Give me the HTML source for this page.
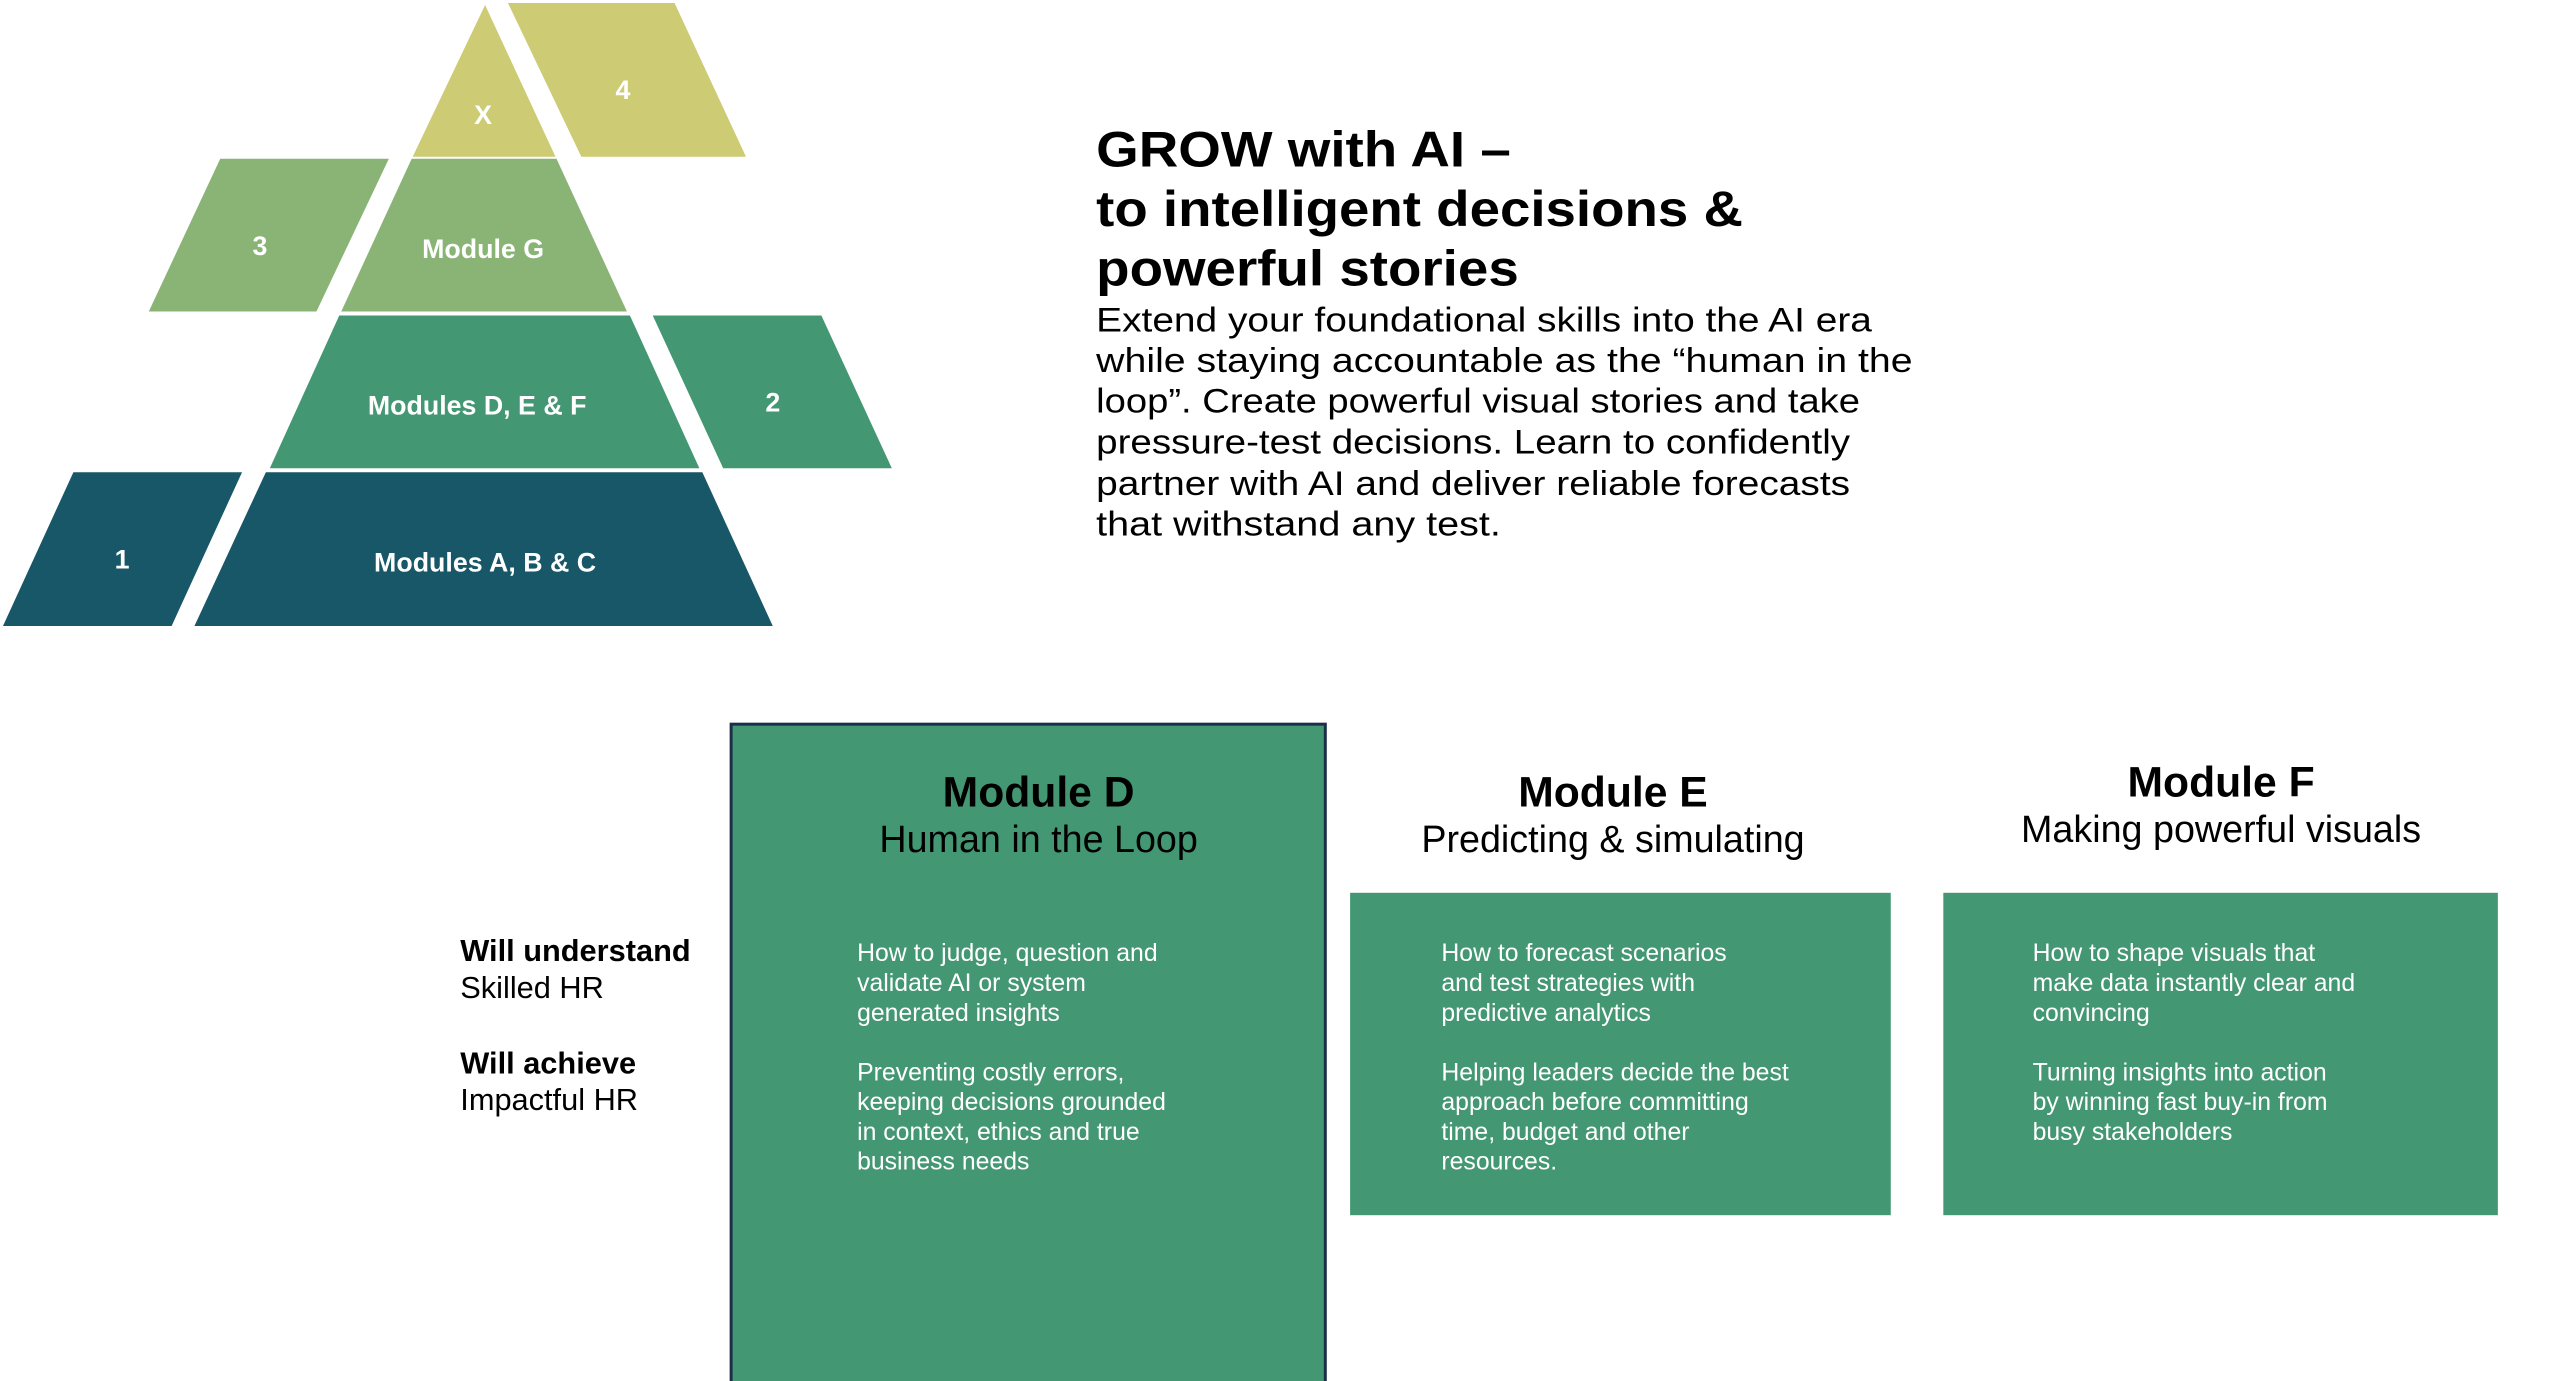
<!DOCTYPE html>
<html><head><meta charset="utf-8"><style>
html,body{margin:0;padding:0;background:#fff;}
svg{display:block;}
text{font-family:"Liberation Sans",sans-serif;}
</style></head><body>
<svg width="2560" height="1381" viewBox="0 0 2560 1381" xmlns="http://www.w3.org/2000/svg">
<g transform="scale(0.992)">
<!-- pyramid -->
<polygon points="489,5 560,158 416,158" fill="#cdcb74"/>
<polygon points="512,3 680,3 752,158 586,158" fill="#cdcb74"/>
<polygon points="415,160 561,160 632,314 344,314" fill="#8ab475"/>
<polygon points="222,160 392,160 319,314 150,314" fill="#8ab475"/>
<polygon points="342,318 635,318 705,472 272,472" fill="#449773"/>
<polygon points="658,318 828,318 899,472 729,472" fill="#449773"/>
<polygon points="268,476 708,476 779,631 196,631" fill="#175767"/>
<polygon points="74,476 244,476 173,631 3,631" fill="#175767"/>
<g fill="#fff" font-weight="bold" font-size="27" text-anchor="middle">
<text x="487" y="125">X</text>
<text x="628" y="100">4</text>
<text x="262" y="257">3</text>
<text x="487" y="260">Module G</text>
<text x="481" y="418">Modules D, E &amp; F</text>
<text x="779" y="415">2</text>
<text x="489" y="576">Modules A, B &amp; C</text>
<text x="123" y="573">1</text>
</g>
<!-- title -->
<g font-weight="bold" font-size="50" fill="#000">
<text x="1105" y="168" textLength="418" lengthAdjust="spacingAndGlyphs">GROW with AI –</text>
<text x="1105" y="228" textLength="652" lengthAdjust="spacingAndGlyphs">to intelligent decisions &amp;</text>
<text x="1105" y="288" textLength="426" lengthAdjust="spacingAndGlyphs">powerful stories</text>
</g>
<g font-size="35" fill="#000">
<text x="1105" y="334" textLength="782" lengthAdjust="spacingAndGlyphs">Extend your foundational skills into the AI era</text>
<text x="1105" y="375" textLength="823" lengthAdjust="spacingAndGlyphs">while staying accountable as the “human in the</text>
<text x="1105" y="416" textLength="770" lengthAdjust="spacingAndGlyphs">loop”. Create powerful visual stories and take</text>
<text x="1105" y="457" textLength="760" lengthAdjust="spacingAndGlyphs">pressure-test decisions. Learn to confidently</text>
<text x="1105" y="499" textLength="760" lengthAdjust="spacingAndGlyphs">partner with AI and deliver reliable forecasts</text>
<text x="1105" y="540" textLength="408" lengthAdjust="spacingAndGlyphs">that withstand any test.</text>
</g>
<!-- boxes -->
<rect x="737" y="730" width="599" height="670" fill="#449773" stroke="#1b2e4a" stroke-width="3"/>
<rect x="1361" y="900" width="545" height="325" fill="#449773"/>
<rect x="1959" y="900" width="559" height="325" fill="#449773"/>
<g text-anchor="middle" fill="#000">
<text x="1047" y="813" font-size="43" font-weight="bold">Module D</text>
<text x="1047" y="859" font-size="38">Human in the Loop</text>
<text x="1626" y="813" font-size="43" font-weight="bold">Module E</text>
<text x="1626" y="859" font-size="38">Predicting &amp; simulating</text>
<text x="2239" y="803" font-size="43" font-weight="bold">Module F</text>
<text x="2239" y="849" font-size="38">Making powerful visuals</text>
</g>
<g fill="#fff" font-size="25">
<text x="864" y="969">How to judge, question and</text>
<text x="864" y="999">validate AI or system</text>
<text x="864" y="1029">generated insights</text>
<text x="864" y="1089">Preventing costly errors,</text>
<text x="864" y="1119">keeping decisions grounded</text>
<text x="864" y="1149">in context, ethics and true</text>
<text x="864" y="1179">business needs</text>
<text x="1453" y="969">How to forecast scenarios</text>
<text x="1453" y="999">and test strategies with</text>
<text x="1453" y="1029">predictive analytics</text>
<text x="1453" y="1089">Helping leaders decide  the best</text>
<text x="1453" y="1119">approach before committing</text>
<text x="1453" y="1149">time, budget and other</text>
<text x="1453" y="1179">resources.</text>
<text x="2049" y="969">How to shape visuals that</text>
<text x="2049" y="999">make data instantly clear and</text>
<text x="2049" y="1029">convincing</text>
<text x="2049" y="1089">Turning insights into action</text>
<text x="2049" y="1119">by winning fast buy-in from</text>
<text x="2049" y="1149">busy stakeholders</text>
</g>
<g fill="#000" font-size="31">
<text x="464" y="969" font-weight="bold">Will understand</text>
<text x="464" y="1006">Skilled HR</text>
<text x="464" y="1082" font-weight="bold">Will achieve</text>
<text x="464" y="1119">Impactful HR</text>
</g>
</g>
</svg>
</body></html>
